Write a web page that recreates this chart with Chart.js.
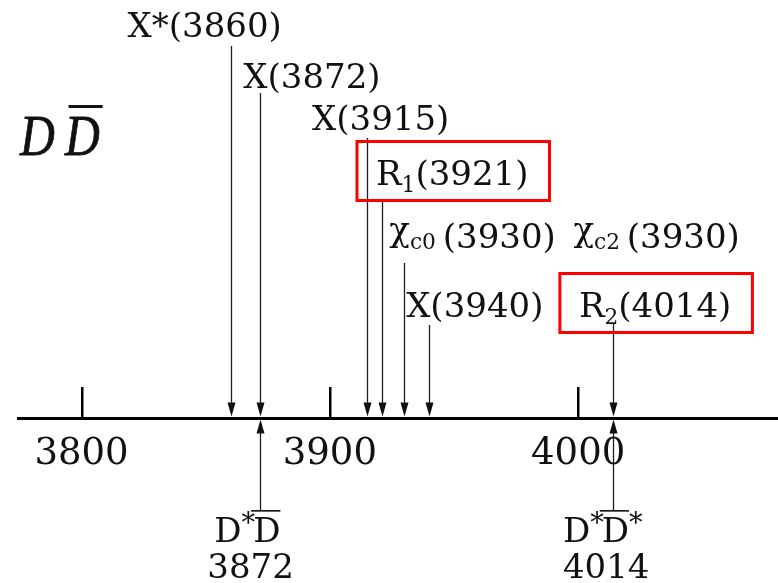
<!DOCTYPE html>
<html>
<head>
<meta charset="utf-8">
<style>
  html, body { margin: 0; padding: 0; background: #ffffff; }
  #wrap { width: 778px; height: 583px; }
</style>
<script src="https://cdn.jsdelivr.net/npm/chart.js@4/dist/chart.umd.min.js"></script>
</head>
<body>
<div id="wrap"><canvas id="c" width="778" height="583"></canvas></div>
<script>
// Charmonium-like states near the D-Dbar region (MeV)
const stateMasses = [3860, 3872, 3915, 3921, 3930, 3940, 4014];
// _{..} lowered subscript, `{..} small text on the baseline, ^{..} superscript, ~{..} overline
const stateLabels = ['X*(3860)', 'X(3872)', 'X(3915)', 'R_{1}(3921)', 'χ`{c0}\u2009(3930) \u2009χ`{c2}\u2009(3930)', 'X(3940)', 'R_{2}(4014)'];
const highlighted = [false, false, false, true, false, false, true];

// Open-charm thresholds
const thresholdMasses = [3872, 4014];
const thresholdNames = ['D^{*}~{D}', 'D^{*}~{D}^{*}'];
const thresholdValues = ['3872', '4014'];

// Axis ticks
const tickValues = [3800, 3900, 4000];

// Label placement: offset from the arrow (px), baseline height above the axis, top of arrow shaft
const stateLayout = [
  { dx: -103, base: 381, top: 372 },
  { dx: -17,  base: 330, top: 325 },
  { dx: -55,  base: 288, top: 280 },
  { dx: -6,   base: 233, top: 218 },
  { dx: -15,  base: 170, top: 155 },
  { dx: -23,  base: 101, top: 93 },
  { dx: -34,  base: 101, top: 95 }
];
const thresholdLayout = [
  { dxName: -46, dxValue: -53 },
  { dxName: -50, dxValue: -50 }
];

const SERIF = '"DejaVu Serif", serif';
const INK = '#111111';

function parseRich(str) {
  const out = [];
  const re = /([_^~`])\{([^}]*)\}/g;
  let last = 0, m;
  const modes = { '_': 'sub', '^': 'sup', '~': 'bar', '`': 'small' };
  while ((m = re.exec(str))) {
    if (m.index > last) out.push({ text: str.slice(last, m.index), mode: '' });
    out.push({ text: m[2], mode: modes[m[1]] });
    last = re.lastIndex;
  }
  if (last < str.length) out.push({ text: str.slice(last), mode: '' });
  return out;
}

function drawRich(ctx, str, x, y, size, draw) {
  let cx = x;
  for (const seg of parseRich(str)) {
    let fs = size;
    if (seg.mode === 'sub' || seg.mode === 'small') fs = size * 0.64;
    if (seg.mode === 'sup') fs = size * 0.8;
    ctx.font = fs + 'px ' + SERIF;
    let dy = 0;
    if (seg.mode === 'sub') dy = size * 0.2;
    if (seg.mode === 'sup') dy = -size * 0.3;
    if (seg.mode === 'small') dy = size * 0.02;
    const start = cx;
    // the chi glyph is lifted so that it sits on the baseline
    const pieces = seg.text.split(/(χ)/).filter(p => p.length);
    for (const p of pieces) {
      const pw = ctx.measureText(p).width;
      if (draw) ctx.fillText(p, cx, y + dy - (p === 'χ' ? size * 0.2 : 0));
      cx += pw;
    }
    if (seg.mode === 'sup') cx -= size * 0.06;
    if (draw && seg.mode === 'bar') {
      ctx.fillRect(start - 2, y - size * 0.94, cx - start + 2, 1.6);
    }
  }
  return cx - x;
}

function arrowHead(ctx, x, tipY, dir) {
  // dir = +1 points down, -1 points up
  ctx.beginPath();
  ctx.moveTo(x, tipY);
  ctx.lineTo(x - 4, tipY - dir * 14);
  ctx.lineTo(x + 4, tipY - dir * 14);
  ctx.closePath();
  ctx.fill();
}

const diagramPlugin = {
  id: 'levelDiagram',
  afterDraw(chart) {
    const { ctx, chartArea, scales } = chart;
    const xs = scales.x;
    const axisY = chartArea.bottom;
    ctx.save();

    // tick marks rising from the axis
    ctx.strokeStyle = '#000';
    ctx.lineWidth = 2.5;
    tickValues.forEach(v => {
      const px = Math.round(xs.getPixelForValue(v)) + 0.25;
      ctx.beginPath();
      ctx.moveTo(px, axisY);
      ctx.lineTo(px, axisY - 31);
      ctx.stroke();
    });

    // states: arrows coming down onto the axis
    const stateMeta = chart.getDatasetMeta(0).data;
    ctx.strokeStyle = '#1e1e1e';
    ctx.fillStyle = '#111';
    ctx.lineWidth = 1.3;
    stateMeta.forEach((pt, i) => {
      const px = Math.round(pt.x) + 0.5;
      const lay = stateLayout[i];
      ctx.beginPath();
      ctx.moveTo(px, axisY - lay.top);
      ctx.lineTo(px, axisY - 12);
      ctx.stroke();
      arrowHead(ctx, px, axisY - 1.5, 1);
    });

    // state labels
    ctx.fillStyle = INK;
    ctx.textBaseline = 'alphabetic';
    ctx.textAlign = 'left';
    stateMeta.forEach((pt, i) => {
      const lay = stateLayout[i];
      const lx = pt.x + lay.dx;
      const ly = axisY - lay.base;
      const w = drawRich(ctx, stateLabels[i], lx, ly, 34, true);
      if (highlighted[i]) {
        ctx.save();
        ctx.strokeStyle = '#ff0000';
        ctx.lineWidth = 3;
        ctx.strokeRect(lx - 19, ly - 43.5, w + 40, 59);
        ctx.restore();
      }
    });

    // thresholds: arrows coming up onto the axis
    const thrMeta = chart.getDatasetMeta(1).data;
    ctx.strokeStyle = '#1e1e1e';
    ctx.fillStyle = '#111';
    ctx.lineWidth = 1.3;
    thrMeta.forEach((pt, i) => {
      const px = Math.round(pt.x) + 0.5;
      ctx.beginPath();
      ctx.moveTo(px, axisY + 12);
      ctx.lineTo(px, axisY + 92);
      ctx.stroke();
      arrowHead(ctx, px, axisY + 1.5, -1);
    });
    ctx.fillStyle = INK;
    thrMeta.forEach((pt, i) => {
      const lay = thresholdLayout[i];
      drawRich(ctx, thresholdNames[i], pt.x + lay.dxName, axisY + 124, 34, true);
      ctx.font = '34px ' + SERIF;
      ctx.fillText(thresholdValues[i], pt.x + lay.dxValue, axisY + 160);
    });

    // channel title
    ctx.font = 'italic 56px "Liberation Serif", serif';
    ctx.save();
    ctx.translate(20, 155);
    ctx.scale(0.86, 1);
    ctx.lineWidth = 0.8;
    ctx.strokeStyle = INK;
    ctx.fillText('D', 0, 0);
    ctx.strokeText('D', 0, 0);
    const dW = ctx.measureText('D').width;
    ctx.fillText('D', dW + 12, 0);
    ctx.strokeText('D', dW + 12, 0);
    ctx.fillRect(dW + 16, -50, dW * 0.98, 3);
    ctx.restore();

    ctx.restore();
  }
};

new Chart(document.getElementById('c'), {
  type: 'scatter',
  data: {
    datasets: [
      { label: 'states', data: stateMasses.map(m => ({ x: m, y: 0 })), pointRadius: 0 },
      { label: 'thresholds', data: thresholdMasses.map(m => ({ x: m, y: 0 })), pointRadius: 0 }
    ]
  },
  options: {
    responsive: false,
    animation: false,
    layout: { padding: { left: 18, right: 0, top: 0, bottom: 0 } },
    plugins: { legend: { display: false }, tooltip: { enabled: false }, title: { display: false } },
    scales: {
      x: {
        type: 'linear',
        position: 'bottom',
        min: 3774.4,
        max: 4080.5,
        afterBuildTicks(scale) { scale.ticks = tickValues.map(v => ({ value: v })); },
        afterFit(scale) { scale.height = 165; },
        ticks: {
          font: { family: '"DejaVu Serif", serif', size: 37 },
          color: INK,
          padding: 14,
          maxRotation: 0,
          autoSkip: false,
          callback: v => String(v)
        },
        grid: { display: true, drawOnChartArea: false, drawTicks: false },
        border: { display: true, color: '#000', width: 3 }
      },
      y: { display: false, min: -1, max: 1 }
    }
  },
  plugins: [diagramPlugin]
});
</script>
</body>
</html>
